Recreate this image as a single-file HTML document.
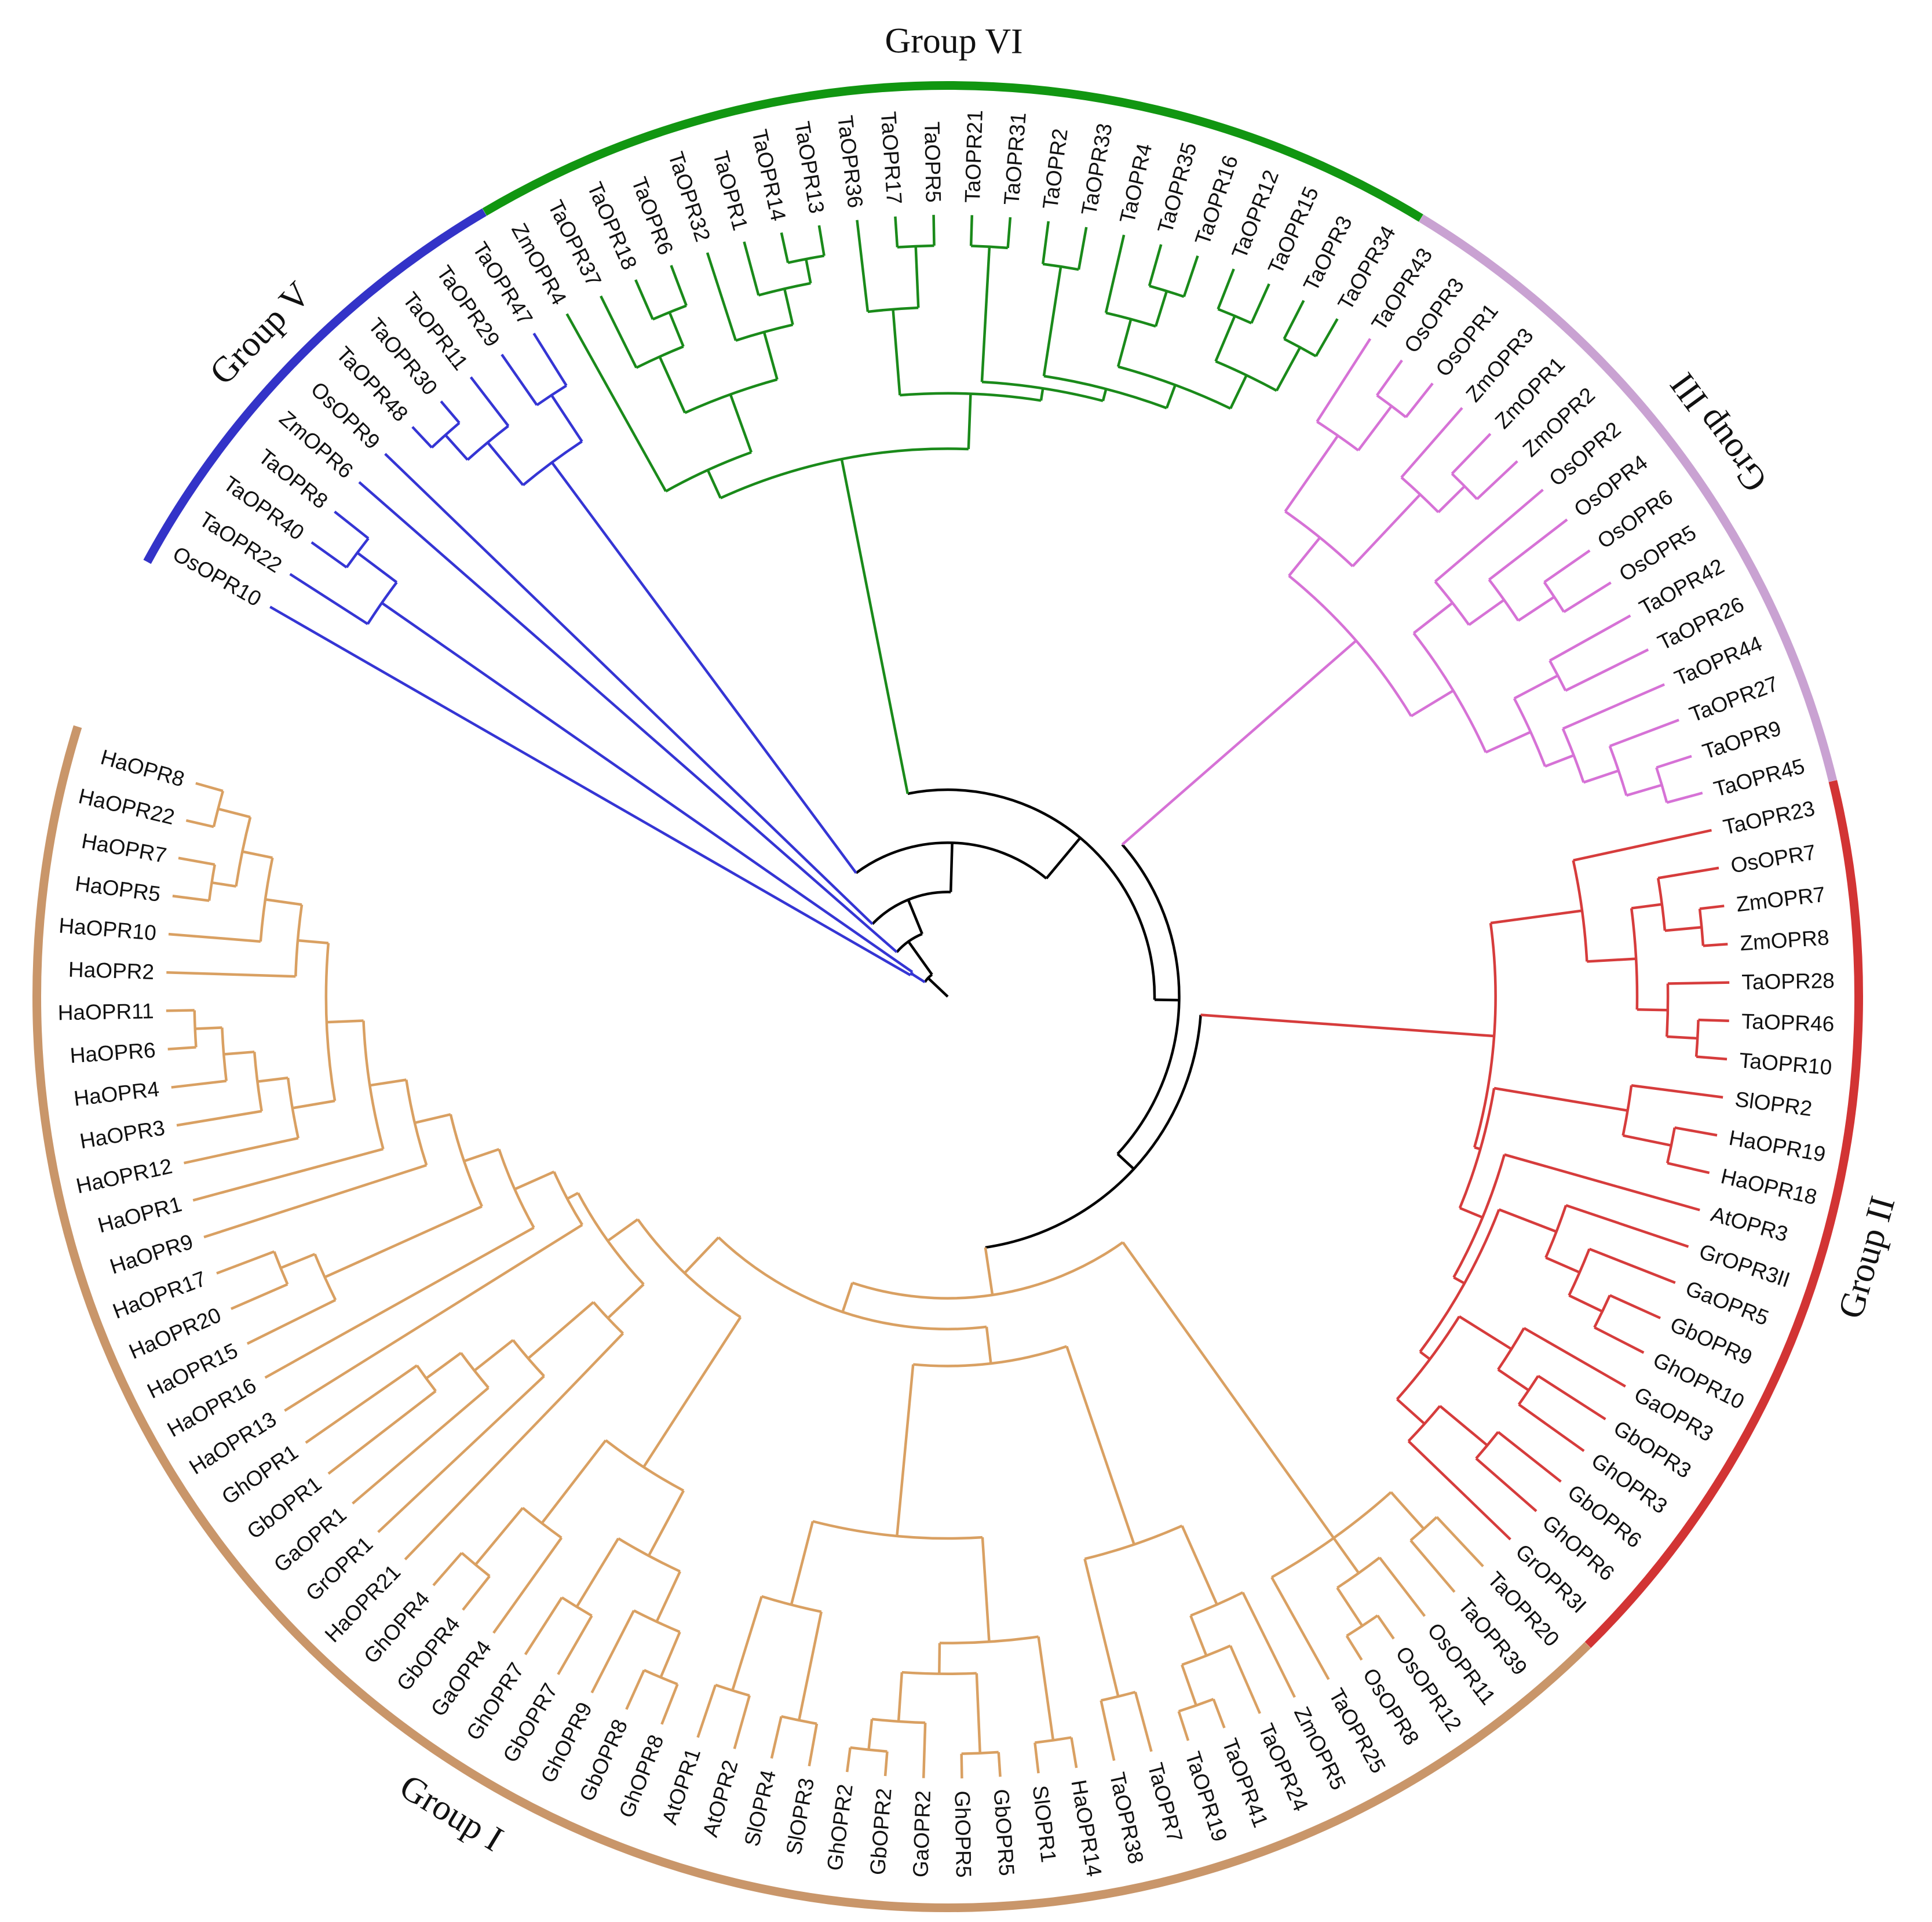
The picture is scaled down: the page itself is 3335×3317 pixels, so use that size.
<!DOCTYPE html>
<html><head><meta charset="utf-8"><style>
html,body{margin:0;padding:0;background:#fff}
svg{display:block}
.lf{font-family:"Liberation Sans",Arial,sans-serif;font-size:37px;fill:#111}
.gl{font-family:"Liberation Serif","Times New Roman",serif;font-size:62px;fill:#111}
</style></head><body>
<svg id="tree" width="3335" height="3317" viewBox="0 0 3335 3317" xmlns="http://www.w3.org/2000/svg">
<g id="branches"></g>
<g id="labels"></g>
<g id="groups"></g>
</svg>
<script>
// leaf order (clockwise)
const leavesV = ['OsOPR10','TaOPR22','TaOPR40','TaOPR8','ZmOPR6','OsOPR9','TaOPR48','TaOPR30','TaOPR11','TaOPR29','TaOPR47'];
const leavesVI = ['ZmOPR4','TaOPR37','TaOPR18','TaOPR6','TaOPR32','TaOPR1','TaOPR14','TaOPR13','TaOPR36','TaOPR17','TaOPR5','TaOPR21','TaOPR31','TaOPR2','TaOPR33','TaOPR4','TaOPR35','TaOPR16','TaOPR12','TaOPR15','TaOPR3','TaOPR34'];
const leavesIII = ['TaOPR43','OsOPR3','OsOPR1','ZmOPR3','ZmOPR1','ZmOPR2','OsOPR2','OsOPR4','OsOPR6','OsOPR5','TaOPR42','TaOPR26','TaOPR44','TaOPR27','TaOPR9','TaOPR45'];
const leavesII = ['TaOPR23','OsOPR7','ZmOPR7','ZmOPR8','TaOPR28','TaOPR46','TaOPR10','SlOPR2','HaOPR19','HaOPR18','AtOPR3','GrOPR3II','GaOPR5','GbOPR9','GhOPR10','GaOPR3','GbOPR3','GhOPR3','GbOPR6','GhOPR6','GrOPR3I'];
const leavesI = ['TaOPR20','TaOPR39','OsOPR11','OsOPR12','OsOPR8','TaOPR25','ZmOPR5','TaOPR24','TaOPR41','TaOPR19','TaOPR7','TaOPR38','HaOPR14','SlOPR1','GbOPR5','GhOPR5','GaOPR2','GbOPR2','GhOPR2','SlOPR3','SlOPR4','AtOPR2','AtOPR1','GhOPR8','GbOPR8','GhOPR9','GbOPR7','GhOPR7','GaOPR4','GbOPR4','GhOPR4','HaOPR21','GrOPR1','GaOPR1','GbOPR1','GhOPR1','HaOPR13','HaOPR16','HaOPR15','HaOPR20','HaOPR17','HaOPR9','HaOPR1','HaOPR12','HaOPR3','HaOPR4','HaOPR6','HaOPR11','HaOPR2','HaOPR10','HaOPR5','HaOPR7','HaOPR22','HaOPR8'];
const groupNames = ['Group V','Group VI','Group III','Group II','Group I'];
const groupLineColors = ['#3535d4','#1a8a1a','#d672d6','#d63c3c','#d9a062'];
const groupArcColors = ['#3333c8','#119611','#c9a2d2','#d23434','#c9966a'];

// tree topology: [nodeRadius, child, child...]
const cladeVa = [560,'TaOPR22',[600,'TaOPR40','TaOPR8']];
const cladeVb = [540,[585,[612,'TaOPR48','TaOPR30'],'TaOPR11'],[585,'TaOPR29','TaOPR47']];
const cladeVI = [445,[470,'ZmOPR4',[520,[570,'TaOPR37',[600,'TaOPR18','TaOPR6']],[560,'TaOPR32',[590,'TaOPR1',[610,'TaOPR14','TaOPR13']]]]],
  [490,[560,'TaOPR36',[610,'TaOPR17','TaOPR5']],[500,[610,'TaOPR21','TaOPR31'],[510,[600,'TaOPR2','TaOPR33'],[530,[570,'TaOPR4',[600,'TaOPR35','TaOPR16']],[560,[600,'TaOPR12','TaOPR15'],[600,'TaOPR3','TaOPR34']]]]]]];
const cladeIII = [440,[480,[555,'TaOPR43',[600,'OsOPR3','OsOPR1']],[560,'ZmOPR3',[590,'ZmOPR1','ZmOPR2']]],
  [480,[520,'OsOPR2',[555,'OsOPR4',[590,'OsOPR6','OsOPR5']]],[520,[560,'TaOPR42','TaOPR26'],[545,'TaOPR44',[575,'TaOPR27',[605,'TaOPR9','TaOPR45']]]]]];
const cladeII = [445,[520,'TaOPR23',[560,[585,'OsOPR7',[615,'ZmOPR7','ZmOPR8']],[585,'TaOPR28',[610,'TaOPR46','TaOPR10']]]],
  [450,[560,'SlOPR2',[600,'HaOPR19','HaOPR18']],[470,'AtOPR3',[480,[530,'GrOPR3II',[560,'GaOPR5',[590,'GbOPR9','GhOPR10']]],[490,[540,'GaOPR3',[570,'GbOPR3','GhOPR3']],[520,[570,'GbOPR6','GhOPR6'],'GrOPR3I']]]]]];
const cladeR1 = [540,[580,'TaOPR20','TaOPR39'],[575,'OsOPR11',[612,'OsOPR12','OsOPR8']],'TaOPR25'];
const cladeR2 = [470,[540,'ZmOPR5',[575,'TaOPR24',[610,'TaOPR41','TaOPR19']]],[585,'TaOPR7','TaOPR38']];
const cladeMid = [440,[525,[610,'HaOPR14','SlOPR1'],[550,[615,'GbOPR5','GhOPR5'],[590,'GaOPR2',[615,'GbOPR2','GhOPR2']]]],[510,[600,'SlOPR3','SlOPR4'],[590,'AtOPR2','AtOPR1']]];
const cladeG8 = [455,[515,[560,[600,'GhOPR8','GbOPR8'],'GhOPR9'],[580,'GbOPR7','GhOPR7']],[540,'GaOPR4',[600,'GbOPR4','GhOPR4']]];
const cladeGr5 = [380,'HaOPR21',[450,'GrOPR1',[490,'GaOPR1',[525,'GbOPR1','GhOPR1']]]];
const cladeHa = [350,'HaOPR13',[385,'HaOPR16',[415,[555,'HaOPR15',[585,'HaOPR20','HaOPR17']],[445,'HaOPR9',[475,'HaOPR1',[505,[540,'HaOPR12',[565,'HaOPR3',[590,'HaOPR4',[612,'HaOPR6','HaOPR11']]]],[530,'HaOPR2',[560,'HaOPR10',[585,[605,'HaOPR5','HaOPR7'],[612,'HaOPR22','HaOPR8']]]]]]]]]];
const cladeI = [245,cladeR1,[270,[300,cladeR2,cladeMid],[310,cladeG8,[340,cladeGr5,cladeHa]]]];
const treeRoot = [22,[35,'OsOPR10',cladeVa],[55,'ZmOPR6',[85,'OsOPR9',[125,cladeVb,[168,cladeVI,[188,cladeIII,[206,cladeII,cladeI]]]]]]];

const S = 2.125, CX = 1636, CY = 1720;
const START = 209.9, STEP = 2.8125;
const TIP = 635, LABEL_R = 645, ARC_R = 740, GLABEL_R = 776;

const groupLeaves = [leavesV, leavesVI, leavesIII, leavesII, leavesI];
const leafIndex = {}, leafGroup = {};
let k = 0;
groupLeaves.forEach((arr, g) => arr.forEach(n => { leafIndex[n] = k++; leafGroup[n] = g; }));
function leafAngle(n) { return START + leafIndex[n] * STEP; }
const NS = 'http://www.w3.org/2000/svg';
const rad = a => a * Math.PI / 180;
const px = (r, a) => CX + r * S * Math.cos(rad(a));
const py = (r, a) => CY + r * S * Math.sin(rad(a));
const gB = document.getElementById('branches');
const gL = document.getElementById('labels');
const gG = document.getElementById('groups');

function info(node) {
  if (typeof node === 'string') return { a: leafAngle(node), r: TIP, groups: new Set([leafGroup[node]]) };
  const kids = node.slice(1).map(info);
  const groups = new Set(); kids.forEach(c => c.groups.forEach(x => groups.add(x)));
  const a = (kids[0].a + kids[kids.length - 1].a) / 2;
  return { a, r: node[0], groups, kids, node };
}
function colorOf(i) { return i.groups.size === 1 ? groupLineColors[[...i.groups][0]] : '#000'; }
function draw(i) {
  if (!i.kids) return;
  const col = colorOf(i);
  const a1 = i.kids[0].a, a2 = i.kids[i.kids.length - 1].a;
  const arc = document.createElementNS(NS, 'path');
  const large = (a2 - a1) > 180 ? 1 : 0;
  arc.setAttribute('d', `M${px(i.r, a1)} ${py(i.r, a1)} A${i.r * S} ${i.r * S} 0 ${large} 1 ${px(i.r, a2)} ${py(i.r, a2)}`);
  arc.setAttribute('fill', 'none'); arc.setAttribute('stroke', col); arc.setAttribute('stroke-width', '4.5');
  
  
  gB.appendChild(arc);
  i.kids.forEach(c => {
    const ln = document.createElementNS(NS, 'line');
    ln.setAttribute('x1', px(i.r, c.a)); ln.setAttribute('y1', py(i.r, c.a));
    ln.setAttribute('x2', px(c.r, c.a)); ln.setAttribute('y2', py(c.r, c.a));
    ln.setAttribute('stroke', colorOf(c)); ln.setAttribute('stroke-width', '4.5');
    
    
    gB.appendChild(ln);
    draw(c);
  });
}
const rootInfo = info(treeRoot);
const stub = document.createElementNS(NS, 'line');
stub.setAttribute('x1', px(0, rootInfo.a)); stub.setAttribute('y1', py(0, rootInfo.a));
stub.setAttribute('x2', px(rootInfo.r, rootInfo.a)); stub.setAttribute('y2', py(rootInfo.r, rootInfo.a));
stub.setAttribute('stroke', '#000'); stub.setAttribute('stroke-width', '4.5');


gB.appendChild(stub);
draw(rootInfo);

groupLeaves.flat().forEach(n => {
  const a = leafAngle(n);
  const t = document.createElementNS(NS, 'text');
  const x = px(LABEL_R, a), y = py(LABEL_R, a);
  const c = Math.cos(rad(a));
  t.setAttribute('x', x); t.setAttribute('y', y);
  t.setAttribute('class', 'lf'); t.setAttribute('dominant-baseline', 'central');
  if (c >= 0) { t.setAttribute('text-anchor', 'start'); t.setAttribute('transform', `rotate(${a} ${x} ${y})`); }
  else { t.setAttribute('text-anchor', 'end'); t.setAttribute('transform', `rotate(${a + 180} ${x} ${y})`); }
  t.textContent = n;
  
  
  gL.appendChild(t);
});

groupLeaves.forEach((arr, g) => {
  const a1 = leafAngle(arr[0]) - 1.4, a2 = leafAngle(arr[arr.length - 1]) + 1.4;
  const p = document.createElementNS(NS, 'path');
  p.setAttribute('d', `M${px(ARC_R, a1)} ${py(ARC_R, a1)} A${ARC_R * S} ${ARC_R * S} 0 ${(a2 - a1) > 180 ? 1 : 0} 1 ${px(ARC_R, a2)} ${py(ARC_R, a2)}`);
  p.setAttribute('fill', 'none'); p.setAttribute('stroke', groupArcColors[g]); p.setAttribute('stroke-width', '15');
  
  
  gG.appendChild(p);
  const am = (a1 + a2) / 2;
  const an = ((am % 360) + 360) % 360;
  const x = px(GLABEL_R, an), y = py(GLABEL_R, an);
  const rot = Math.sin(rad(an)) < 0 && Math.cos(rad(an)) < 0.5 ? an + 90 : an - 90;
  const t = document.createElementNS(NS, 'text');
  t.setAttribute('x', x); t.setAttribute('y', y);
  t.setAttribute('class', 'gl'); t.setAttribute('text-anchor', 'middle'); t.setAttribute('dominant-baseline', 'central');
  t.setAttribute('transform', `rotate(${rot} ${x} ${y})`);
  t.textContent = groupNames[g];
  
  
  gG.appendChild(t);
});
</script>
</body></html>
